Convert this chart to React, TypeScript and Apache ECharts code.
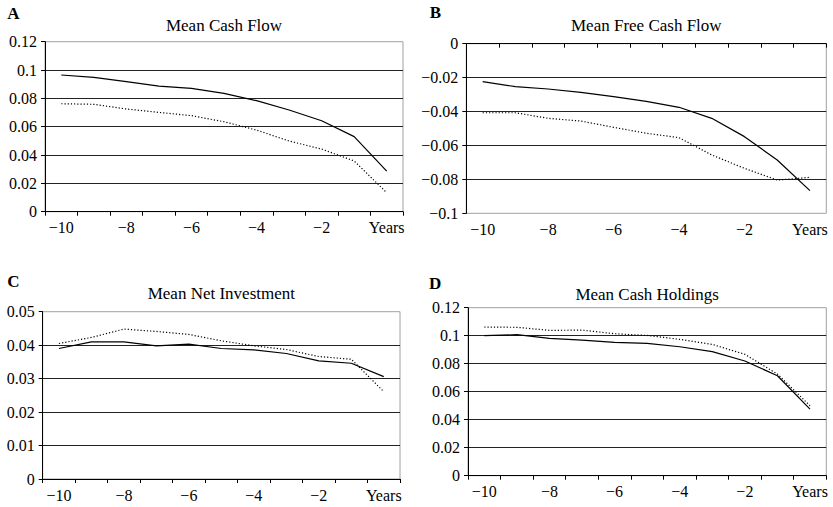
import React, { useEffect, useRef } from "react";
import * as echarts from "echarts";

const years = ["−10", "−9", "−8", "−7", "−6", "−5", "−4", "−3", "−2", "−1", "Years"];

const cashFlowSolid = [0.0965, 0.0948, 0.0918, 0.0887, 0.087, 0.0835, 0.0784, 0.0718, 0.0642, 0.053, 0.0287];
const cashFlowDotted = [0.0762, 0.0758, 0.0725, 0.0701, 0.0678, 0.0635, 0.0576, 0.0499, 0.0442, 0.0358, 0.0134];

const freeCashSolid = [-0.0224, -0.0253, -0.0267, -0.0287, -0.0312, -0.034, -0.0375, -0.044, -0.0548, -0.0686, -0.0866];
const freeCashDotted = [-0.0407, -0.0407, -0.044, -0.0456, -0.0493, -0.0528, -0.0554, -0.0656, -0.0735, -0.0804, -0.0788];

const netInvSolid = [0.039, 0.041, 0.041, 0.0398, 0.0403, 0.039, 0.0386, 0.0375, 0.0353, 0.0346, 0.0306];
const netInvDotted = [0.0405, 0.0423, 0.0448, 0.0441, 0.0432, 0.0413, 0.0398, 0.0387, 0.0366, 0.0358, 0.0261];

const holdingsSolid = [0.1, 0.1007, 0.0981, 0.0969, 0.0952, 0.0945, 0.0921, 0.0886, 0.0819, 0.0714, 0.0476];
const holdingsDotted = [0.1062, 0.106, 0.1038, 0.104, 0.1014, 0.1002, 0.0974, 0.0938, 0.0867, 0.0726, 0.05];

const panelTitles = ["Mean Cash Flow", "Mean Free Cash Flow", "Mean Net Investment", "Mean Cash Holdings"];
const panelLetters = ["A", "B", "C", "D"];
const yRanges = [
  { min: 0, max: 0.12, interval: 0.02 },
  { min: -0.1, max: 0, interval: 0.02 },
  { min: 0, max: 0.05, interval: 0.01 },
  { min: 0, max: 0.12, interval: 0.02 },
];

const FONT = "'Liberation Serif', 'Times New Roman', serif";

const grids = [
  { left: 45, top: 41.7, width: 358, height: 170 },
  { left: 466.3, top: 43.7, width: 360, height: 169.6 },
  { left: 42.7, top: 311.7, width: 357.3, height: 167.3 },
  { left: 468, top: 307.7, width: 358.3, height: 168 },
];
const titleY = [25, 25.3, 293.8, 294];
const letterPos = [
  [7.3, 13.3],
  [429.7, 12.8],
  [7.3, 281.7],
  [429, 283],
];

export default function App() {
  const ref = useRef<HTMLDivElement>(null);
  useEffect(() => {
    if (!ref.current) return;
    const chart = echarts.init(ref.current, null, { renderer: "svg" });
    const solids = [cashFlowSolid, freeCashSolid, netInvSolid, holdingsSolid];
    const dotteds = [cashFlowDotted, freeCashDotted, netInvDotted, holdingsDotted];

    const fmt = (v: number) => String(parseFloat(v.toFixed(4))).replace("-", "−");

    const graphics: any[] = [];
    grids.forEach((g, i) => {
      graphics.push({
        type: "text",
        x: g.left + g.width / 2,
        y: titleY[i],
        style: {
          text: panelTitles[i],
          font: `17px ${FONT}`,
          fill: "#000",
          align: "center",
          verticalAlign: "middle",
        },
      });
      graphics.push({
        type: "text",
        x: letterPos[i][0],
        y: letterPos[i][1],
        style: {
          text: panelLetters[i],
          font: `bold 17px ${FONT}`,
          fill: "#000",
          align: "left",
          verticalAlign: "middle",
        },
      });
    });

    const option: any = {
      animation: false,
      backgroundColor: "#fff",
      grid: grids.map((g) => ({
        ...g,
        show: true,
        borderColor: "#a0a0a0",
        borderWidth: 1,
        containLabel: false,
      })),
      xAxis: grids.map((_, i) => ({
        type: "category",
        gridIndex: i,
        data: years,
        boundaryGap: true,
        axisLine: { show: true, lineStyle: { color: "#000", width: 1 } },
        axisTick: { show: true, interval: 0, length: 4, lineStyle: { color: "#000" } },
        axisLabel: {
          interval: 1,
          margin: 8,
          color: "#000",
          fontFamily: FONT,
          fontSize: 16,
        },
        splitLine: { show: false },
      })),
      yAxis: grids.map((_, i) => ({
        type: "value",
        gridIndex: i,
        min: yRanges[i].min,
        max: yRanges[i].max,
        interval: yRanges[i].interval,
        axisLine: { show: true, lineStyle: { color: "#000", width: 1 } },
        axisTick: { show: true, length: 4, lineStyle: { color: "#000" } },
        axisLabel: {
          margin: 8,
          color: "#000",
          fontFamily: FONT,
          fontSize: 16,
          formatter: fmt,
        },
        splitLine: {
          show: true,
          showMinLine: false,
          showMaxLine: false,
          lineStyle: { color: "#222", width: 1 },
        },
      })),
      series: grids.flatMap((_, i) => [
        {
          type: "line",
          xAxisIndex: i,
          yAxisIndex: i,
          data: solids[i],
          symbol: "none",
          lineStyle: { color: "#000", width: 1.2, type: "solid" },
          z: 3,
        },
        {
          type: "line",
          xAxisIndex: i,
          yAxisIndex: i,
          data: dotteds[i],
          symbol: "none",
          lineStyle: { color: "#000", width: 1.2, type: [1.2, 2] },
          z: 3,
        },
      ]),
      graphic: graphics,
    };
    chart.setOption(option);
    return () => chart.dispose();
  }, []);
  return (
    <div
      ref={ref}
      style={{ position: "absolute", left: 0, top: 0, width: 833, height: 507 }}
    />
  );
}
